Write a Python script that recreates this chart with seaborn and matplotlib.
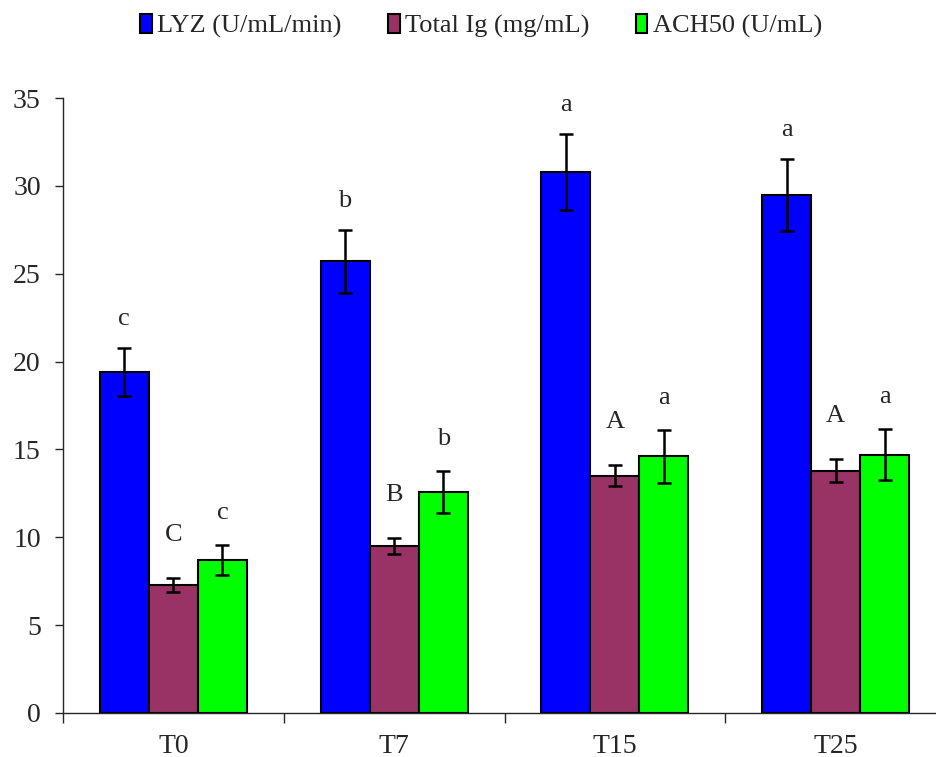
import seaborn as sns
import matplotlib.pyplot as plt
import pandas as pd

# valores
tempos = ['T0', 'T7', 'T15', 'T25']
series = ['LYZ (U/mL/min)', 'Total Ig (mg/mL)', 'ACH50 (U/mL)']
lyz = [19.4, 25.7, 30.8, 29.5]
lyz_erro = [1.35, 1.8, 2.15, 2.05]
ig = [7.3, 9.5, 13.5, 13.8]
ig_erro = [0.4, 0.45, 0.6, 0.65]
ach50 = [8.7, 12.6, 14.6, 14.7]
ach50_erro = [0.85, 1.2, 1.5, 1.45]
letras_lyz = ['c', 'b', 'a', 'a']
letras_ig = ['C', 'B', 'A', 'A']
letras_ach50 = ['c', 'b', 'a', 'a']

cores = ['#0000FF', '#993366', '#00FF00']

df = pd.DataFrame({
    'tempo': tempos * 3,
    'serie': [series[0]] * 4 + [series[1]] * 4 + [series[2]] * 4,
    'valor': lyz + ig + ach50,
})
erros = lyz_erro + ig_erro + ach50_erro
letras = letras_lyz + letras_ig + letras_ach50
# distância (pt) entre a barra de erro e a letra, por série
offsets = [13] * 4 + [23] * 4 + [15] * 4

sns.set_style('ticks')
plt.rcParams['font.family'] = ['Liberation Serif', 'DejaVu Serif']

fig = plt.figure(figsize=(9.36, 7.57), dpi=100)
ax = fig.add_axes([63 / 936, 44 / 757, 883 / 936, 615 / 757])

sns.barplot(data=df, x='tempo', y='valor', hue='serie', palette=cores,
            width=0.667, gap=0, errorbar=None, edgecolor='black',
            linewidth=1.5, saturation=1, ax=ax)

# barras de erro e letras em cima de cada barra
barras = [p for p in ax.patches if p.get_height() > 0]
for barra, erro, letra, off in zip(barras, erros, letras, offsets):
    x = barra.get_x() + barra.get_width() / 2
    y = barra.get_height()
    ax.errorbar(x, y, yerr=erro, color='black', capsize=5, elinewidth=1.8,
                capthick=1.8, zorder=5)
    ax.annotate(letra, (x, y + erro), xytext=(0, off), textcoords='offset points',
                ha='center', va='bottom', fontsize=19)

ax.set_ylim(0, 35)
ax.set_xlim(-0.5, 3.5)
ax.set_yticks(range(0, 36, 5))
ax.set_xticks([0, 1, 2, 3])
ax.set_xticks([-0.5, 0.5, 1.5, 2.5], minor=True)
ax.tick_params(axis='x', which='major', length=0, labelsize=20, pad=15)
ax.tick_params(axis='x', which='minor', length=7, width=1, direction='out')
ax.tick_params(axis='y', length=6, width=1, labelsize=20, pad=10)
ax.set_xlabel('')
ax.set_ylabel('')
sns.despine(ax=ax)
ax.spines['left'].set_linewidth(1)
ax.spines['bottom'].set_linewidth(1)

ax.legend(loc='center', bbox_to_anchor=(481 / 936, 1 - 26 / 757),
          bbox_transform=fig.transFigure, ncol=3, frameon=False, fontsize=19,
          handlelength=0.45, handleheight=0.75, handletextpad=0.2,
          columnspacing=1.75, borderaxespad=0)

fig.savefig('out.png', dpi=100)
